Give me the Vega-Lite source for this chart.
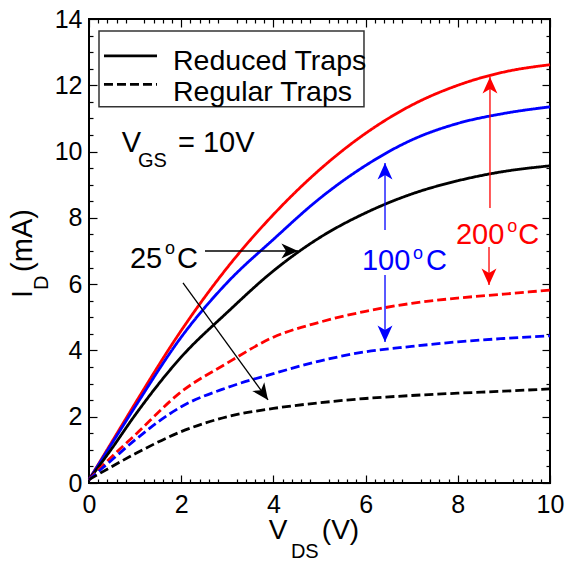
{
  "$schema": "https://vega.github.io/schema/vega-lite/v6.json",
  "width": 461,
  "height": 464,
  "autosize": "none",
  "padding": {"left": 89, "top": 19, "right": 21, "bottom": 79},
  "config": {
    "view": {"stroke": "#000000", "strokeWidth": 2},
    "font": "Liberation Sans",
    "axis": {"domain": false, "grid": false, "title": null, "labelFont": "Liberation Sans", "labelFontSize": 25, "labelColor": "#000000", "labelFlush": false, "labelOverlap": false, "tickColor": "#000000", "tickWidth": 1.2}
  },
  "datasets": {
    "curves": [
      {"temp": "200°C", "trap": "Reduced", "v": 0, "i": 0.1},
      {"temp": "200°C", "trap": "Reduced", "v": 0.5, "i": 1.25},
      {"temp": "200°C", "trap": "Reduced", "v": 1, "i": 2.4},
      {"temp": "200°C", "trap": "Reduced", "v": 2, "i": 4.6},
      {"temp": "200°C", "trap": "Reduced", "v": 3, "i": 6.5},
      {"temp": "200°C", "trap": "Reduced", "v": 4, "i": 8.1},
      {"temp": "200°C", "trap": "Reduced", "v": 5, "i": 9.45},
      {"temp": "200°C", "trap": "Reduced", "v": 6, "i": 10.55},
      {"temp": "200°C", "trap": "Reduced", "v": 7, "i": 11.4},
      {"temp": "200°C", "trap": "Reduced", "v": 8, "i": 12.0},
      {"temp": "200°C", "trap": "Reduced", "v": 9, "i": 12.4},
      {"temp": "200°C", "trap": "Reduced", "v": 10, "i": 12.62},
      {"temp": "100°C", "trap": "Reduced", "v": 0, "i": 0.1},
      {"temp": "100°C", "trap": "Reduced", "v": 0.5, "i": 1.2},
      {"temp": "100°C", "trap": "Reduced", "v": 1, "i": 2.3},
      {"temp": "100°C", "trap": "Reduced", "v": 2, "i": 4.4},
      {"temp": "100°C", "trap": "Reduced", "v": 3, "i": 6.05},
      {"temp": "100°C", "trap": "Reduced", "v": 4, "i": 7.35},
      {"temp": "100°C", "trap": "Reduced", "v": 5, "i": 8.58},
      {"temp": "100°C", "trap": "Reduced", "v": 6, "i": 9.58},
      {"temp": "100°C", "trap": "Reduced", "v": 7, "i": 10.35},
      {"temp": "100°C", "trap": "Reduced", "v": 8, "i": 10.85},
      {"temp": "100°C", "trap": "Reduced", "v": 9, "i": 11.15},
      {"temp": "100°C", "trap": "Reduced", "v": 10, "i": 11.35},
      {"temp": "25°C", "trap": "Reduced", "v": 0, "i": 0.1},
      {"temp": "25°C", "trap": "Reduced", "v": 0.5, "i": 1.05},
      {"temp": "25°C", "trap": "Reduced", "v": 1, "i": 2.05},
      {"temp": "25°C", "trap": "Reduced", "v": 2, "i": 3.8},
      {"temp": "25°C", "trap": "Reduced", "v": 3, "i": 5.15},
      {"temp": "25°C", "trap": "Reduced", "v": 4, "i": 6.4},
      {"temp": "25°C", "trap": "Reduced", "v": 5, "i": 7.4},
      {"temp": "25°C", "trap": "Reduced", "v": 6, "i": 8.15},
      {"temp": "25°C", "trap": "Reduced", "v": 7, "i": 8.72},
      {"temp": "25°C", "trap": "Reduced", "v": 8, "i": 9.12},
      {"temp": "25°C", "trap": "Reduced", "v": 9, "i": 9.4},
      {"temp": "25°C", "trap": "Reduced", "v": 10, "i": 9.57},
      {"temp": "200°C", "trap": "Regular", "v": 0, "i": 0.1},
      {"temp": "200°C", "trap": "Regular", "v": 0.5, "i": 0.8},
      {"temp": "200°C", "trap": "Regular", "v": 1, "i": 1.45},
      {"temp": "200°C", "trap": "Regular", "v": 2, "i": 2.75},
      {"temp": "200°C", "trap": "Regular", "v": 3, "i": 3.62},
      {"temp": "200°C", "trap": "Regular", "v": 4, "i": 4.4},
      {"temp": "200°C", "trap": "Regular", "v": 5, "i": 4.85},
      {"temp": "200°C", "trap": "Regular", "v": 6, "i": 5.18},
      {"temp": "200°C", "trap": "Regular", "v": 7, "i": 5.42},
      {"temp": "200°C", "trap": "Regular", "v": 8, "i": 5.58},
      {"temp": "200°C", "trap": "Regular", "v": 9, "i": 5.7},
      {"temp": "200°C", "trap": "Regular", "v": 10, "i": 5.82},
      {"temp": "100°C", "trap": "Regular", "v": 0, "i": 0.1},
      {"temp": "100°C", "trap": "Regular", "v": 0.5, "i": 0.7},
      {"temp": "100°C", "trap": "Regular", "v": 1, "i": 1.3},
      {"temp": "100°C", "trap": "Regular", "v": 2, "i": 2.3},
      {"temp": "100°C", "trap": "Regular", "v": 3, "i": 2.88},
      {"temp": "100°C", "trap": "Regular", "v": 4, "i": 3.3},
      {"temp": "100°C", "trap": "Regular", "v": 5, "i": 3.68},
      {"temp": "100°C", "trap": "Regular", "v": 6, "i": 3.96},
      {"temp": "100°C", "trap": "Regular", "v": 7, "i": 4.12},
      {"temp": "100°C", "trap": "Regular", "v": 8, "i": 4.26},
      {"temp": "100°C", "trap": "Regular", "v": 9, "i": 4.36},
      {"temp": "100°C", "trap": "Regular", "v": 10, "i": 4.44},
      {"temp": "25°C", "trap": "Regular", "v": 0, "i": 0.1},
      {"temp": "25°C", "trap": "Regular", "v": 0.5, "i": 0.5},
      {"temp": "25°C", "trap": "Regular", "v": 1, "i": 0.88},
      {"temp": "25°C", "trap": "Regular", "v": 2, "i": 1.55},
      {"temp": "25°C", "trap": "Regular", "v": 3, "i": 2.0},
      {"temp": "25°C", "trap": "Regular", "v": 4, "i": 2.25},
      {"temp": "25°C", "trap": "Regular", "v": 5, "i": 2.42},
      {"temp": "25°C", "trap": "Regular", "v": 6, "i": 2.55},
      {"temp": "25°C", "trap": "Regular", "v": 7, "i": 2.64},
      {"temp": "25°C", "trap": "Regular", "v": 8, "i": 2.71},
      {"temp": "25°C", "trap": "Regular", "v": 9, "i": 2.77},
      {"temp": "25°C", "trap": "Regular", "v": 10, "i": 2.84}
    ],
    "legendbox": [{"v": 0.217, "v2": 5.965, "i": 13.64, "i2": 11.35}],
    "legendlines": [
      {"trap": "Reduced", "v": 0.325, "i": 12.89},
      {"trap": "Reduced", "v": 1.475, "i": 12.89},
      {"trap": "Regular", "v": 0.325, "i": 12.03},
      {"trap": "Regular", "v": 1.475, "i": 12.03}
    ],
    "legendtext": [
      {"v": 1.822, "i": 12.46, "text": "Reduced Traps"},
      {"v": 1.822, "i": 11.53, "text": "Regular Traps"}
    ],
    "bigtext": [
      {"v": 0.709, "i": 10.0, "text": "V", "temp": "label"},
      {"v": 1.93, "i": 10.0, "text": "= 10V", "temp": "label"},
      {"v": 0.889, "i": 6.49, "text": "25", "temp": "25°C"},
      {"v": 1.909, "i": 6.49, "text": "C", "temp": "25°C"},
      {"v": 5.92, "i": 6.43, "text": "100", "temp": "100°C"},
      {"v": 7.31, "i": 6.43, "text": "C", "temp": "100°C"},
      {"v": 7.96, "i": 7.21, "text": "200", "temp": "200°C"},
      {"v": 9.31, "i": 7.21, "text": "C", "temp": "200°C"}
    ],
    "xtitle": [
      {"v": 3.9, "i": -1.7, "text": "V"},
      {"v": 5.05, "i": -1.7, "text": "(V)"}
    ],
    "subtext": [
      {"v": 1.063, "i": 9.54, "text": "GS", "temp": "label"},
      {"v": 4.38, "i": -2.27, "text": "DS", "temp": "label"}
    ],
    "suptext": [
      {"v": 1.649, "i": 6.91, "text": "o", "temp": "25°C"},
      {"v": 7.03, "i": 6.75, "text": "o", "temp": "100°C"},
      {"v": 9.07, "i": 7.56, "text": "o", "temp": "200°C"}
    ],
    "ytitle": [
      {"v": -1.236, "i": 5.58, "text": "I"},
      {"v": -1.236, "i": 6.37, "text": "(mA)"}
    ],
    "ytitlesub": [
      {"v": -0.889, "i": 5.82, "text": "D"}
    ],
    "arrows": [
      {"temp": "25°C", "dir": "right", "v": 2.516, "i": 7.0, "v2": 4.534, "i2": 7.0},
      {"temp": "25°C", "dir": "diag", "v": 2.039, "i": 6.035, "v2": 3.883, "i2": 2.505},
      {"temp": "100°C", "dir": "up", "v": 6.421, "i": 7.634, "v2": 6.421, "i2": 9.656},
      {"temp": "100°C", "dir": "down", "v": 6.421, "i": 6.276, "v2": 6.421, "i2": 4.255},
      {"temp": "200°C", "dir": "up", "v": 8.698, "i": 8.298, "v2": 8.698, "i2": 12.251},
      {"temp": "200°C", "dir": "down", "v": 8.677, "i": 7.121, "v2": 8.677, "i2": 5.975}
    ]
  },
  "layer": [
    {
      "data": {"name": "legendbox"},
      "mark": {"type": "rect", "fill": "#ffffff", "stroke": "#333333", "strokeWidth": 1.5},
      "encoding": {
        "x": {"field": "v", "type": "quantitative", "scale": {"domain": [0, 10], "nice": false, "zero": false},
          "axis": {"orient": "bottom", "values": [0.2,0.4,0.6,0.8,1.2,1.4,1.6,1.8,2.2,2.4,2.6,2.8,3.2,3.4,3.6,3.8,4.2,4.4,4.6,4.8,5.2,5.4,5.6,5.8,6.2,6.4,6.6,6.8,7.2,7.4,7.6,7.8,8.2,8.4,8.6,8.8,9.2,9.4,9.6,9.8], "labels": false, "tickSize": -4}},
        "x2": {"field": "v2"},
        "y": {"field": "i", "type": "quantitative", "scale": {"domain": [0, 14], "nice": false, "zero": false},
          "axis": {"orient": "left", "values": [0.5,1,1.5,2.5,3,3.5,4.5,5,5.5,6.5,7,7.5,8.5,9,9.5,10.5,11,11.5,12.5,13,13.5], "labels": false, "tickSize": -4}},
        "y2": {"field": "i2"}
      }
    },
    {
      "data": {"name": "curves"},
      "mark": {"type": "line", "strokeWidth": 2.8, "interpolate": "monotone"},
      "encoding": {
        "x": {"field": "v", "type": "quantitative", "scale": {"domain": [0, 10], "nice": false, "zero": false},
          "axis": {"orient": "bottom", "values": [0, 2, 4, 6, 8, 10], "tickSize": -8, "labelPadding": 17}},
        "y": {"field": "i", "type": "quantitative", "scale": {"domain": [0, 14], "nice": false, "zero": false},
          "axis": {"orient": "left", "values": [0, 2, 4, 6, 8, 10, 12, 14], "tickSize": -8, "labelPadding": 15}},
        "color": {"field": "temp", "type": "nominal", "scale": {"domain": ["25°C", "100°C", "200°C", "label"], "range": ["#000000", "#0000ff", "#ff0000", "#000000"]}, "legend": null},
        "strokeDash": {"field": "trap", "type": "nominal", "scale": {"domain": ["Reduced", "Regular"], "range": [[1, 0], [9, 4]]}, "legend": null}
      }
    },
    {
      "data": {"name": "legendlines"},
      "mark": {"type": "line", "strokeWidth": 2.8, "color": "#000000"},
      "encoding": {
        "x": {"field": "v", "type": "quantitative", "scale": {"domain": [0, 10], "nice": false, "zero": false},
          "axis": {"orient": "top", "values": [0, 2, 4, 6, 8, 10], "labels": false, "tickSize": -8}},
        "y": {"field": "i", "type": "quantitative", "scale": {"domain": [0, 14], "nice": false, "zero": false},
          "axis": {"orient": "right", "values": [0, 2, 4, 6, 8, 10, 12, 14], "labels": false, "tickSize": -8}},
        "strokeDash": {"field": "trap", "type": "nominal", "scale": {"domain": ["Reduced", "Regular"], "range": [[1, 0], [9, 4]]}, "legend": null}
      }
    },
    {
      "data": {"name": "legendtext"},
      "mark": {"type": "text", "fontSize": 28.5, "align": "left", "baseline": "alphabetic", "color": "#000000"},
      "encoding": {
        "x": {"field": "v", "type": "quantitative", "scale": {"domain": [0, 10], "nice": false, "zero": false},
          "axis": {"orient": "top", "values": [0.2,0.4,0.6,0.8,1.2,1.4,1.6,1.8,2.2,2.4,2.6,2.8,3.2,3.4,3.6,3.8,4.2,4.4,4.6,4.8,5.2,5.4,5.6,5.8,6.2,6.4,6.6,6.8,7.2,7.4,7.6,7.8,8.2,8.4,8.6,8.8,9.2,9.4,9.6,9.8], "labels": false, "tickSize": -4}},
        "y": {"field": "i", "type": "quantitative", "scale": {"domain": [0, 14], "nice": false, "zero": false},
          "axis": {"orient": "right", "values": [0.5,1,1.5,2.5,3,3.5,4.5,5,5.5,6.5,7,7.5,8.5,9,9.5,10.5,11,11.5,12.5,13,13.5], "labels": false, "tickSize": -4}},
        "text": {"field": "text"}
      }
    },
    {
      "data": {"name": "bigtext"},
      "mark": {"type": "text", "fontSize": 29, "align": "left", "baseline": "alphabetic"},
      "encoding": {
        "x": {"field": "v", "type": "quantitative", "scale": {"domain": [0, 10], "nice": false, "zero": false}, "axis": null},
        "y": {"field": "i", "type": "quantitative", "scale": {"domain": [0, 14], "nice": false, "zero": false}, "axis": null},
        "color": {"field": "temp", "type": "nominal", "legend": null},
        "text": {"field": "text"}
      }
    },
    {
      "data": {"name": "xtitle"},
      "mark": {"type": "text", "fontSize": 28, "align": "left", "baseline": "alphabetic", "color": "#000000"},
      "encoding": {
        "x": {"field": "v", "type": "quantitative", "scale": {"domain": [0, 10], "nice": false, "zero": false}, "axis": null},
        "y": {"field": "i", "type": "quantitative", "scale": {"domain": [0, 14], "nice": false, "zero": false}, "axis": null},
        "text": {"field": "text"}
      }
    },
    {
      "data": {"name": "subtext"},
      "mark": {"type": "text", "fontSize": 20, "align": "left", "baseline": "alphabetic"},
      "encoding": {
        "x": {"field": "v", "type": "quantitative", "scale": {"domain": [0, 10], "nice": false, "zero": false}, "axis": null},
        "y": {"field": "i", "type": "quantitative", "scale": {"domain": [0, 14], "nice": false, "zero": false}, "axis": null},
        "color": {"field": "temp", "type": "nominal", "legend": null},
        "text": {"field": "text"}
      }
    },
    {
      "data": {"name": "suptext"},
      "mark": {"type": "text", "fontSize": 18, "align": "left", "baseline": "alphabetic"},
      "encoding": {
        "x": {"field": "v", "type": "quantitative", "scale": {"domain": [0, 10], "nice": false, "zero": false}, "axis": null},
        "y": {"field": "i", "type": "quantitative", "scale": {"domain": [0, 14], "nice": false, "zero": false}, "axis": null},
        "color": {"field": "temp", "type": "nominal", "legend": null},
        "text": {"field": "text"}
      }
    },
    {
      "data": {"name": "ytitle"},
      "mark": {"type": "text", "fontSize": 29, "align": "left", "baseline": "alphabetic", "angle": 270, "color": "#000000"},
      "encoding": {
        "x": {"field": "v", "type": "quantitative", "scale": {"domain": [0, 10], "nice": false, "zero": false}, "axis": null},
        "y": {"field": "i", "type": "quantitative", "scale": {"domain": [0, 14], "nice": false, "zero": false}, "axis": null},
        "text": {"field": "text"}
      }
    },
    {
      "data": {"name": "ytitlesub"},
      "mark": {"type": "text", "fontSize": 20, "align": "left", "baseline": "alphabetic", "angle": 270, "color": "#000000"},
      "encoding": {
        "x": {"field": "v", "type": "quantitative", "scale": {"domain": [0, 10], "nice": false, "zero": false}, "axis": null},
        "y": {"field": "i", "type": "quantitative", "scale": {"domain": [0, 14], "nice": false, "zero": false}, "axis": null},
        "text": {"field": "text"}
      }
    },
    {
      "data": {"name": "arrows"},
      "mark": {"type": "rule", "strokeWidth": 1.3},
      "encoding": {
        "x": {"field": "v", "type": "quantitative", "scale": {"domain": [0, 10], "nice": false, "zero": false}, "axis": null},
        "y": {"field": "i", "type": "quantitative", "scale": {"domain": [0, 14], "nice": false, "zero": false}, "axis": null},
        "x2": {"field": "v2"},
        "y2": {"field": "i2"},
        "color": {"field": "temp", "type": "nominal", "legend": null}
      }
    },
    {
      "data": {"name": "arrows"},
      "transform": [{"filter": "datum.dir === 'up'"}],
      "mark": {"type": "point", "filled": true, "opacity": 1, "shape": "M0,0L-0.45,1L0,0.72L0.45,1Z", "size": 1100, "angle": 0, "strokeWidth": 0},
      "encoding": {
        "x": {"field": "v2", "type": "quantitative", "scale": {"domain": [0, 10], "nice": false, "zero": false}, "axis": null},
        "y": {"field": "i2", "type": "quantitative", "scale": {"domain": [0, 14], "nice": false, "zero": false}, "axis": null},
        "color": {"field": "temp", "type": "nominal", "legend": null}
      }
    },
    {
      "data": {"name": "arrows"},
      "transform": [{"filter": "datum.dir === 'down'"}],
      "mark": {"type": "point", "filled": true, "opacity": 1, "shape": "M0,0L-0.45,1L0,0.72L0.45,1Z", "size": 1100, "angle": 180, "strokeWidth": 0},
      "encoding": {
        "x": {"field": "v2", "type": "quantitative", "scale": {"domain": [0, 10], "nice": false, "zero": false}, "axis": null},
        "y": {"field": "i2", "type": "quantitative", "scale": {"domain": [0, 14], "nice": false, "zero": false}, "axis": null},
        "color": {"field": "temp", "type": "nominal", "legend": null}
      }
    },
    {
      "data": {"name": "arrows"},
      "transform": [{"filter": "datum.dir === 'right'"}],
      "mark": {"type": "point", "filled": true, "opacity": 1, "shape": "M0,0L-0.45,1L0,0.72L0.45,1Z", "size": 1100, "angle": 90, "strokeWidth": 0},
      "encoding": {
        "x": {"field": "v2", "type": "quantitative", "scale": {"domain": [0, 10], "nice": false, "zero": false}, "axis": null},
        "y": {"field": "i2", "type": "quantitative", "scale": {"domain": [0, 14], "nice": false, "zero": false}, "axis": null},
        "color": {"field": "temp", "type": "nominal", "legend": null}
      }
    },
    {
      "data": {"name": "arrows"},
      "transform": [{"filter": "datum.dir === 'diag'"}],
      "mark": {"type": "point", "filled": true, "opacity": 1, "shape": "M0,0L-0.45,1L0,0.72L0.45,1Z", "size": 1100, "angle": 144, "strokeWidth": 0},
      "encoding": {
        "x": {"field": "v2", "type": "quantitative", "scale": {"domain": [0, 10], "nice": false, "zero": false}, "axis": null},
        "y": {"field": "i2", "type": "quantitative", "scale": {"domain": [0, 14], "nice": false, "zero": false}, "axis": null},
        "color": {"field": "temp", "type": "nominal", "legend": null}
      }
    }
  ],
  "resolve": {"axis": {"x": "independent", "y": "independent"}}
}
